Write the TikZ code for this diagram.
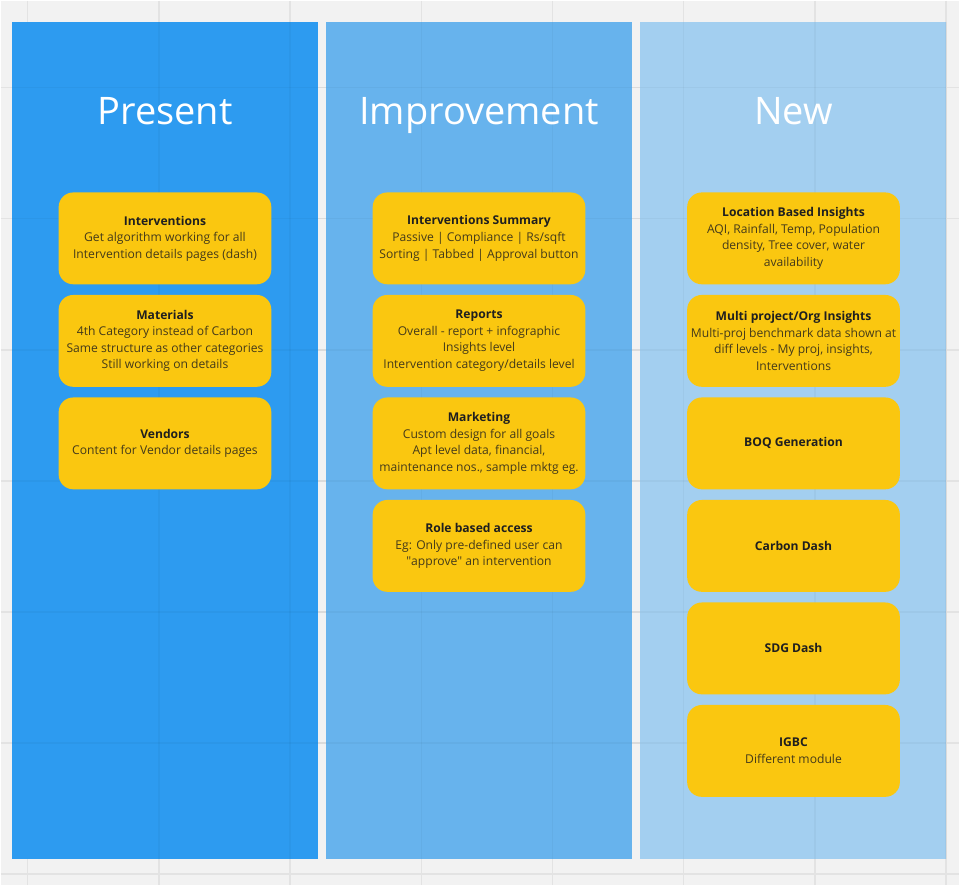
\documentclass[tikz,border=0pt]{standalone}
\usepackage{fontspec}
\setmainfont{Open Sans}
\usepackage{xcolor}
\usetikzlibrary{positioning}
\definecolor{canvas}{RGB}{242,242,242}
\definecolor{gridline}{RGB}{227,227,227}
\definecolor{presentblue}{RGB}{45,155,240}
\definecolor{improveblue}{RGB}{103,179,237}
\definecolor{newblue}{RGB}{163,207,240}
\definecolor{stickyyellow}{RGB}{250,199,16}
\definecolor{bodytext}{RGB}{68,58,26}
\tikzset{
  lanetitle/.style={text=white, anchor=base, inner sep=0pt,
                    font=\fontsize{28.5}{34}\selectfont},
  card/.style={fill=stickyyellow, rounded corners=11pt, minimum width=159.75pt,
               minimum height=69pt, align=center, inner xsep=1pt, inner ysep=2pt,
               text=bodytext, font=\fontsize{9.1}{12.4}\selectfont},
}
\newcommand{\cardhead}[1]{{\bfseries\color{black!88}#1}}

\begin{document}
\begin{tikzpicture}[x=0.75pt, y=-0.75pt, node distance=7.6pt]
  % canvas + grid
  \fill[canvas] (0,0) rectangle (960,886);
  \foreach \k in {0,...,7}
    \draw[gridline, line width=1.1pt] ({27+131.4*\k},0) -- ++(0,886);
  \foreach \k in {0,...,6}
    \draw[gridline, line width=1.1pt] (0,{87+131.3*\k}) -- ++(960,0);

  % lanes
  \fill[presentblue] (11,21) rectangle (318,860);
  \fill[improveblue] (326,21) rectangle (632,860);
  \fill[newblue] (640,21) rectangle (947,860);
  \begin{scope}[draw opacity=0.03]
    \foreach \k in {1,...,7}
      \draw[black, line width=1.1pt] ({27+131.4*\k},21) -- ({27+131.4*\k},860);
    \foreach \k in {0,...,5}
      \draw[black, line width=1.1pt] (11,{87+131.3*\k}) -- (947,{87+131.3*\k});
  \end{scope}

  \node[lanetitle] (present) at (164.5,124) {Present};
  \node[lanetitle] (improve) at (479,124) {Improvement};
  \node[lanetitle] (new) at (794,124) {New};

  % present
  \node[card] (interv) at (164.5,238) {\cardhead{Interventions}\\
    Get algorithm working for all\\Intervention details pages (dash)};
  \node[card, below=of interv] (materials) {\cardhead{Materials}\\
    4th Category instead of Carbon\\Same structure as other categories\\
    Still working on details};
  \node[card, below=of materials] (vendors) {\cardhead{Vendors}\\
    Content for Vendor details pages};

  % improvement
  \node[card] (summary) at (479,238) {\cardhead{Interventions Summary}\\
    Passive | Compliance | Rs/sqft\\Sorting | Tabbed | Approval button};
  \node[card, below=of summary] (reports) {\cardhead{Reports}\\
    Overall - report + infographic\\Insights level\\
    Intervention category/details level};
  \node[card, below=of reports] (marketing) {\cardhead{Marketing}\\
    Custom design for all goals\\Apt level data, financial,\\
    maintenance nos., sample mktg eg.};
  \node[card, below=of marketing] (roles) {\cardhead{Role based access}\\
    Eg: Only pre-defined user can\\\textquotedbl approve\textquotedbl{} an intervention};

  % new
  \node[card] (location) at (794,238) {\cardhead{Location Based Insights}\\
    AQI, Rainfall, Temp, Population\\density, Tree cover, water\\availability};
  \node[card, below=of location] (multiproj) {\cardhead{Multi project/Org Insights}\\
    Multi-proj benchmark data shown at\\diff levels - My proj, insights,\\
    Interventions};
  \node[card, below=of multiproj] (boq) {\cardhead{BOQ Generation}};
  \node[card, below=of boq] (carbon) {\cardhead{Carbon Dash}};
  \node[card, below=of carbon] (sdg) {\cardhead{SDG Dash}};
  \node[card, below=of sdg] (igbc) {\cardhead{IGBC}\\Different module};
\end{tikzpicture}
\end{document}
